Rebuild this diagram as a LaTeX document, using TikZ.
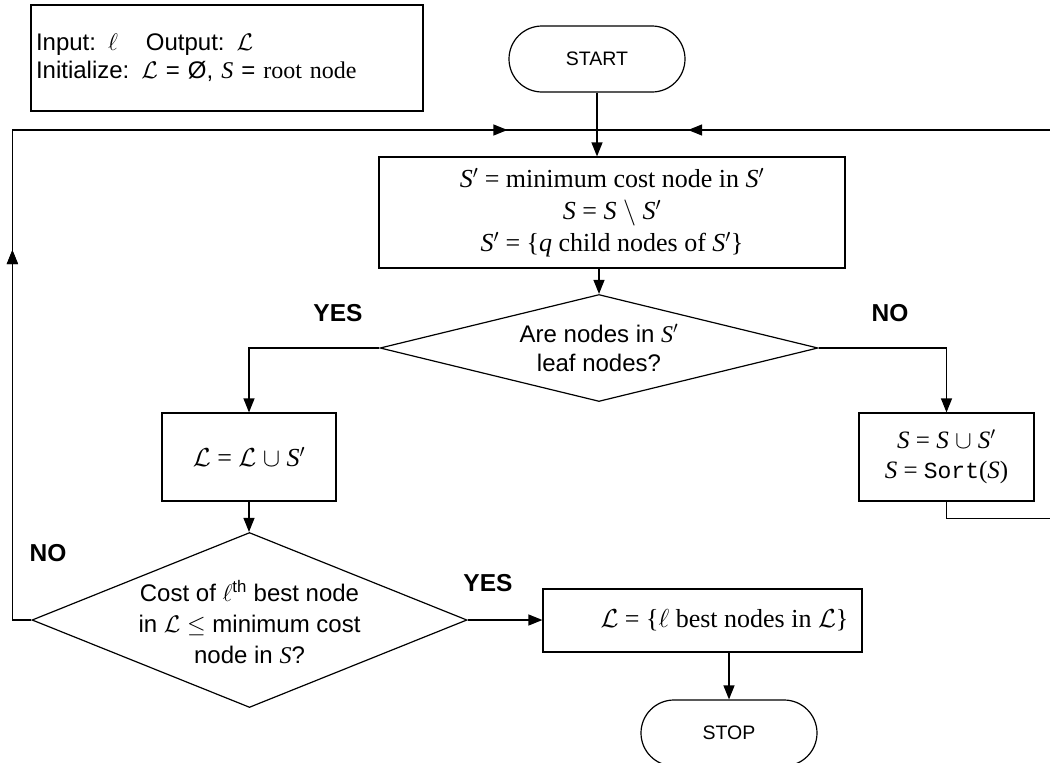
\documentclass[tikz,border=0pt]{standalone}
\usepackage{fix-cm}
\usepackage{fontspec}
\setmainfont{Liberation Sans}
\newfontfamily\serif{Liberation Serif}
\setmonofont{Liberation Mono}
\usetikzlibrary{shapes.geometric,arrows.meta,decorations.markings}
\newcommand\Sv{{\serif\itshape S}}
\newcommand\Lc{$\mathcal{L}$}
\tikzset{
  box/.style={draw, rectangle, inner sep=0pt, align=center},
  term/.style={draw, rectangle, rounded corners=33pt, minimum width=176pt, minimum height=66pt, inner sep=0pt, font=\fontsize{19.5}{23}\selectfont},
  dia/.style={draw, diamond, inner sep=0pt},
  tip/.style={-{Triangle[length=14pt,width=11pt]}},
  lab/.style={font=\fontsize{24.5}{28}\selectfont\bfseries},
  stxt/.style={font=\fontsize{24}{29}\selectfont, align=center},
  rtxt/.style={font=\serif\fontsize{26}{32}\selectfont},
  loopmark/.style={postaction=decorate, decoration={markings,
     mark=at position #1 with {\arrow{Triangle[length=14pt,width=11pt]}}}},
}
\begin{document}
\begin{tikzpicture}[x=1pt,y=-1pt,line width=1.2pt]
\useasboundingbox (0,0) rectangle (1050,763);
\clip (0,0) rectangle (1050,763);

% info box
\node[box, align=left, minimum width=392pt, minimum height=106pt, text width=382pt,
      font=\fontsize{24}{28}\selectfont] (info) at (227,58)
  {Input: $\ell$\hspace{28pt}Output: \Lc\\ Initialize: \Lc{} = Ø, \Sv{} = {\serif root node}};

% terminals
\node[term] (start) at (597,59) {START};
\node[term] (stop) at (729,733) {STOP};

% main update box
\node[box, rtxt, minimum width=466pt, minimum height=111pt] (upd) at (612,212.5)
  {\Sv$'$ = minimum cost node in \Sv$'$\\ \Sv{} = \Sv{} $\setminus$ \Sv$'$\\ \Sv$'$ = \{{\itshape q} child nodes of \Sv$'$\}};

% decision 1
\node[dia, minimum width=438pt, minimum height=107pt] (d1) at (599,348) {};
\node[stxt] (d1t) at (d1.center) {Are nodes in \Sv$'$\\ leaf nodes?};

% left box
\node[box, rtxt, minimum width=174pt, minimum height=88pt] (lu) at (249,457)
  {\Lc{} = \Lc{} $\cup$ \Sv$'$};

% sort box
\node[box, font=\serif\fontsize{25}{30}\selectfont, minimum width=175pt, minimum height=88pt] (srt) at (946.5,457)
  {\Sv{} = \Sv{} $\cup$ \Sv$'$\\ \Sv{} = {\fontsize{23}{30}\selectfont\texttt{Sort}}(\Sv)};

% decision 2
\node[dia, minimum width=435pt, minimum height=175pt] (d2) at (249.5,620) {};
\node[stxt, font=\fontsize{24}{31}\selectfont] (d2t) at (249.5,622)
  {Cost of $\ell$\textsuperscript{th} best node\\ in \Lc{} $\leq$ minimum cost\\ node in \Sv?};

% best box
\node[box, rtxt, minimum width=319pt, minimum height=63pt] (best) at (702.5,620.5)
  {\hspace*{44pt}\Lc{} = \{$\ell$ best nodes in \Lc\}};

% labels
\node[lab] (yes1) at (338,313) {YES};
\node[lab] (no1) at (890,313) {NO};
\node[lab] (no2) at (48,553) {NO};
\node[lab] (yes2) at (488,583) {YES};

% connectors
\coordinate (jn) at (597,130);
\coordinate (far) at (1060,130);
\draw[tip] (start.south) -- (start.south |- upd.north);
\draw[tip] (d1.north |- upd.south) -- (d1.north);
\draw[tip] (d1.west) -| (lu.north);
\draw[tip] (d1.east) -| (srt.north);
\draw[tip] (lu.south) -- (lu.south |- d2.north);
\draw[tip] (d2.east) -- (d2.east -| best.west);
\draw[tip] (best.south -| stop.north) -- (stop.north);

% loops
\draw[loopmark=389pt, postaction={loopmark=1004pt}] (d2.west) -- ++(-19,0) |- (jn);
\draw[loopmark=891pt] (srt.south) -- ++(0,17) -| (far) -- (jn);
\end{tikzpicture}
\end{document}
